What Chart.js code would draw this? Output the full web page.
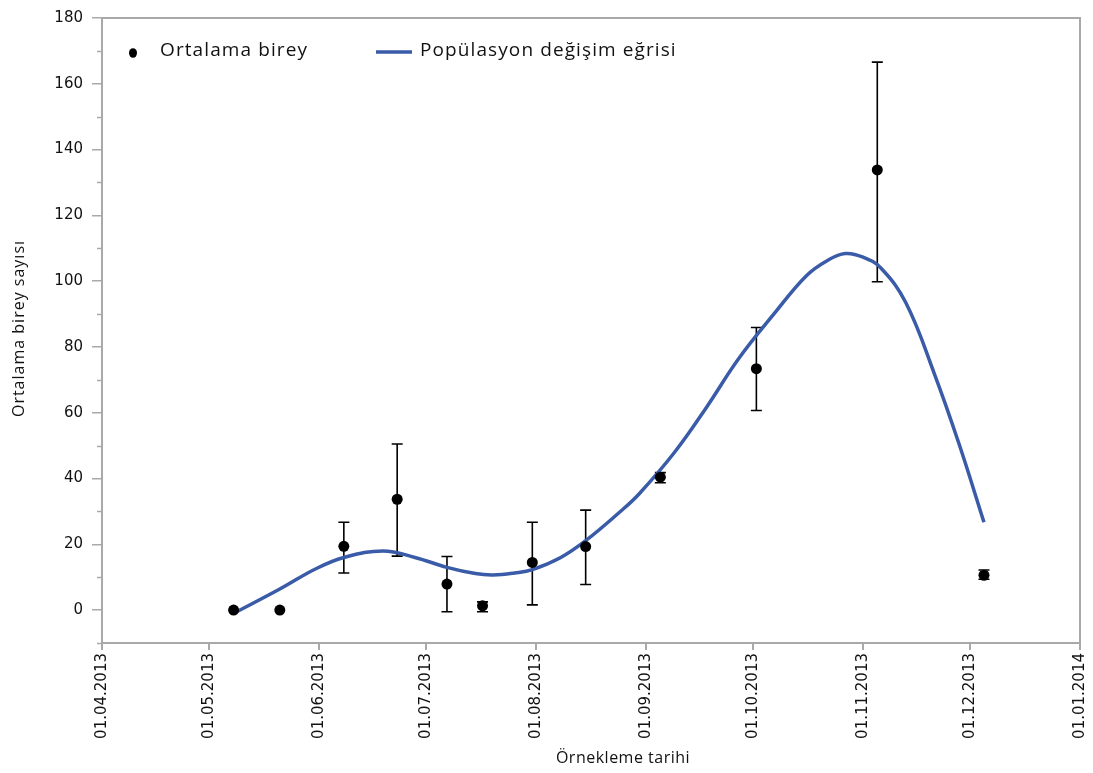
<!DOCTYPE html>
<html><head><meta charset="utf-8">
<script src="https://cdn.jsdelivr.net/npm/chart.js@4.4.0/dist/chart.umd.min.js"></script>
<style>html,body{margin:0;padding:0;background:#fff}#wrap{width:1093px;height:773px;position:relative}</style>
</head><body><div id="wrap"><canvas id="c" width="1093" height="773"></canvas></div>
<script>
// ---- data ----
const sampleDates = ['08.05.2013','21.05.2013','08.06.2013','23.06.2013','07.07.2013','17.07.2013','31.07.2013','15.08.2013','05.09.2013','02.10.2013','05.11.2013','05.12.2013'];
const meanValues  = [0, 0, 19.4, 33.7, 7.9, 1.3, 14.5, 19.3, 40.4, 73.4, 133.8, 10.6];
const errLow      = [0, 0, 11.3, 16.4, -0.5, -0.5, 1.6, 7.8, 38.7, 60.7, 99.8, 9.4];
const errHigh     = [0, 0, 26.7, 50.5, 16.3, 2.5, 26.7, 30.4, 41.8, 85.9, 166.6, 12.2];
const curveDates  = ['08.05.2013','21.05.2013','31.05.2013','08.06.2013','19.06.2013','28.06.2013','07.07.2013','15.07.2013','20.07.2013','26.07.2013','31.07.2013','08.08.2013','15.08.2013','25.08.2013','30.08.2013','09.09.2013','18.09.2013','27.09.2013','07.10.2013','16.10.2013','22.10.2013','27.10.2013','01.11.2013','06.11.2013','13.11.2013','21.11.2013','28.11.2013','05.12.2013'];
const curveValues = [-1, 6.4, 12.5, 16, 18, 16, 13, 11.1, 10.7, 11.3, 12.3, 16, 21.1, 30.2, 35.3, 48, 61.7, 76.4, 90.1, 101.6, 106.3, 108.4, 107.3, 104, 93.5, 72, 50.5, 26.7];
const xTickLabels = ['01.04.2013','01.05.2013','01.06.2013','01.07.2013','01.08.2013','01.09.2013','01.10.2013','01.11.2013','01.12.2013','01.01.2014'];
const yTickValues = [0, 20, 40, 60, 80, 100, 120, 140, 160, 180];
const yMinorValues = [-10, 10, 30, 50, 70, 90, 110, 130, 150, 170];
const legendLabels = ['Ortalama birey', 'Popülasyon değişim eğrisi'];
const xTitle = 'Örnekleme tarihi';
const yTitle = 'Ortalama birey sayısı';

// ---- helpers ----
function dayNum(s){const p=s.split('.').map(Number);return (Date.UTC(p[2],p[1]-1,p[0])-Date.UTC(2013,3,1))/864e5;}
const BLUE = '#3a5ba8';
const AXIS = '#a9a9a9';
const TXT = '#111';

const pointsData = sampleDates.map((d,i)=>({x:dayNum(d), y:meanValues[i]}));
const curveData = curveDates.map((d,i)=>({x:dayNum(d), y:curveValues[i]}));
const xTickDays = xTickLabels.map(dayNum);

function spaced(ctx, sp){ try { ctx.letterSpacing = sp; } catch(e) {} }

const errorBars = {
  id:'errorBars',
  beforeDatasetsDraw(chart){
    const {ctx, scales:{x,y}} = chart;
    ctx.save();
    ctx.strokeStyle = '#000'; ctx.lineWidth = 1.6;
    sampleDates.forEach((d,i)=>{
      if (errHigh[i]===errLow[i]) return;
      const px = x.getPixelForValue(dayNum(d));
      const y1 = y.getPixelForValue(errHigh[i]);
      const y2 = y.getPixelForValue(errLow[i]);
      ctx.beginPath();
      ctx.moveTo(px,y1); ctx.lineTo(px,y2);
      ctx.moveTo(px-5.5,y1); ctx.lineTo(px+5.5,y1);
      ctx.moveTo(px-5.5,y2); ctx.lineTo(px+5.5,y2);
      ctx.stroke();
    });
    ctx.restore();
  }
};

const frame = {
  id:'frame',
  afterDraw(chart){
    const {ctx, chartArea:a, scales:{y}} = chart;
    ctx.save();
    ctx.strokeStyle = AXIS; ctx.lineWidth = 2;
    ctx.beginPath();
    ctx.moveTo(a.left, a.top); ctx.lineTo(a.right, a.top); ctx.lineTo(a.right, a.bottom);
    ctx.stroke();
    ctx.lineWidth = 1.5;
    yMinorValues.forEach(v=>{
      const py = Math.round(y.getPixelForValue(v))+0.5;
      ctx.beginPath(); ctx.moveTo(a.left-5, py); ctx.lineTo(a.left, py); ctx.stroke();
    });
    // legend
    ctx.fillStyle = '#000';
    ctx.beginPath(); ctx.ellipse(a.left+31, a.top+35, 4, 4.8, 0, 0, Math.PI*2); ctx.fill();
    ctx.strokeStyle = BLUE; ctx.lineWidth = 3.5;
    ctx.beginPath(); ctx.moveTo(a.left+274, a.top+34); ctx.lineTo(a.left+310, a.top+34); ctx.stroke();
    ctx.fillStyle = TXT;
    ctx.font = '19px "Open Sans"';
    ctx.textBaseline = 'middle';
    ctx.textAlign = 'left';
    spaced(ctx, '1.1px');
    ctx.fillText(legendLabels[0], a.left+58, a.top+33);
    ctx.fillText(legendLabels[1], a.left+318, a.top+33);
    // axis titles
    ctx.font = '16px "Open Sans"';
    ctx.textAlign = 'center';
    spaced(ctx, '0.5px');
    ctx.fillText(xTitle, a.left + 521, 758);
    ctx.save();
    ctx.translate(19, (a.top + a.bottom)/2 - 2);
    ctx.rotate(-Math.PI/2);
    spaced(ctx, '1px');
    ctx.fillText(yTitle, 0, 0);
    ctx.restore();
    ctx.restore();
  }
};

new Chart(document.getElementById('c'), {
  type:'scatter',
  data:{datasets:[
    {label:legendLabels[0], data:pointsData, pointRadius:5.5, pointHoverRadius:5.5, backgroundColor:'#000', borderColor:'#000', borderWidth:0, showLine:false},
    {label:legendLabels[1], data:curveData, showLine:true, borderColor:BLUE, borderWidth:3.5, pointRadius:0, tension:0.4, fill:false}
  ]},
  options:{
    responsive:false, animation:false, devicePixelRatio:1,
    layout:{padding:{top:18, right:13, left:0, bottom:0}},
    plugins:{legend:{display:false}, tooltip:{enabled:false}},
    scales:{
      x:{type:'linear', min:0, max:275,
        afterBuildTicks(s){ s.ticks = xTickDays.map(v=>({value:v})); },
        afterFit(s){ s.height = 130; s.paddingLeft = 0; s.paddingRight = 0; },
        ticks:{autoSkip:false, minRotation:90, maxRotation:90, padding:3, color:TXT,
          font:{family:'"DejaVu Sans"', size:15},
          callback(v,i){ return xTickLabels[i]; }},
        grid:{drawOnChartArea:false, drawTicks:true, tickLength:7, color:AXIS, lineWidth:2},
        border:{display:true, color:AXIS, width:2},
        title:{display:false}
      },
      y:{type:'linear', min:-10, max:180,
        afterBuildTicks(s){ s.ticks = yTickValues.map(v=>({value:v})); },
        afterFit(s){ s.width = 102; s.paddingTop = 0; s.paddingBottom = 0; },
        ticks:{padding:9, color:TXT, font:{family:'"DejaVu Sans"', size:15}},
        grid:{drawOnChartArea:false, drawTicks:true, tickLength:10, color:AXIS, lineWidth:1.5},
        border:{display:true, color:AXIS, width:2},
        title:{display:false}
      }
    }
  },
  plugins:[errorBars, frame]
});
</script></body></html>
